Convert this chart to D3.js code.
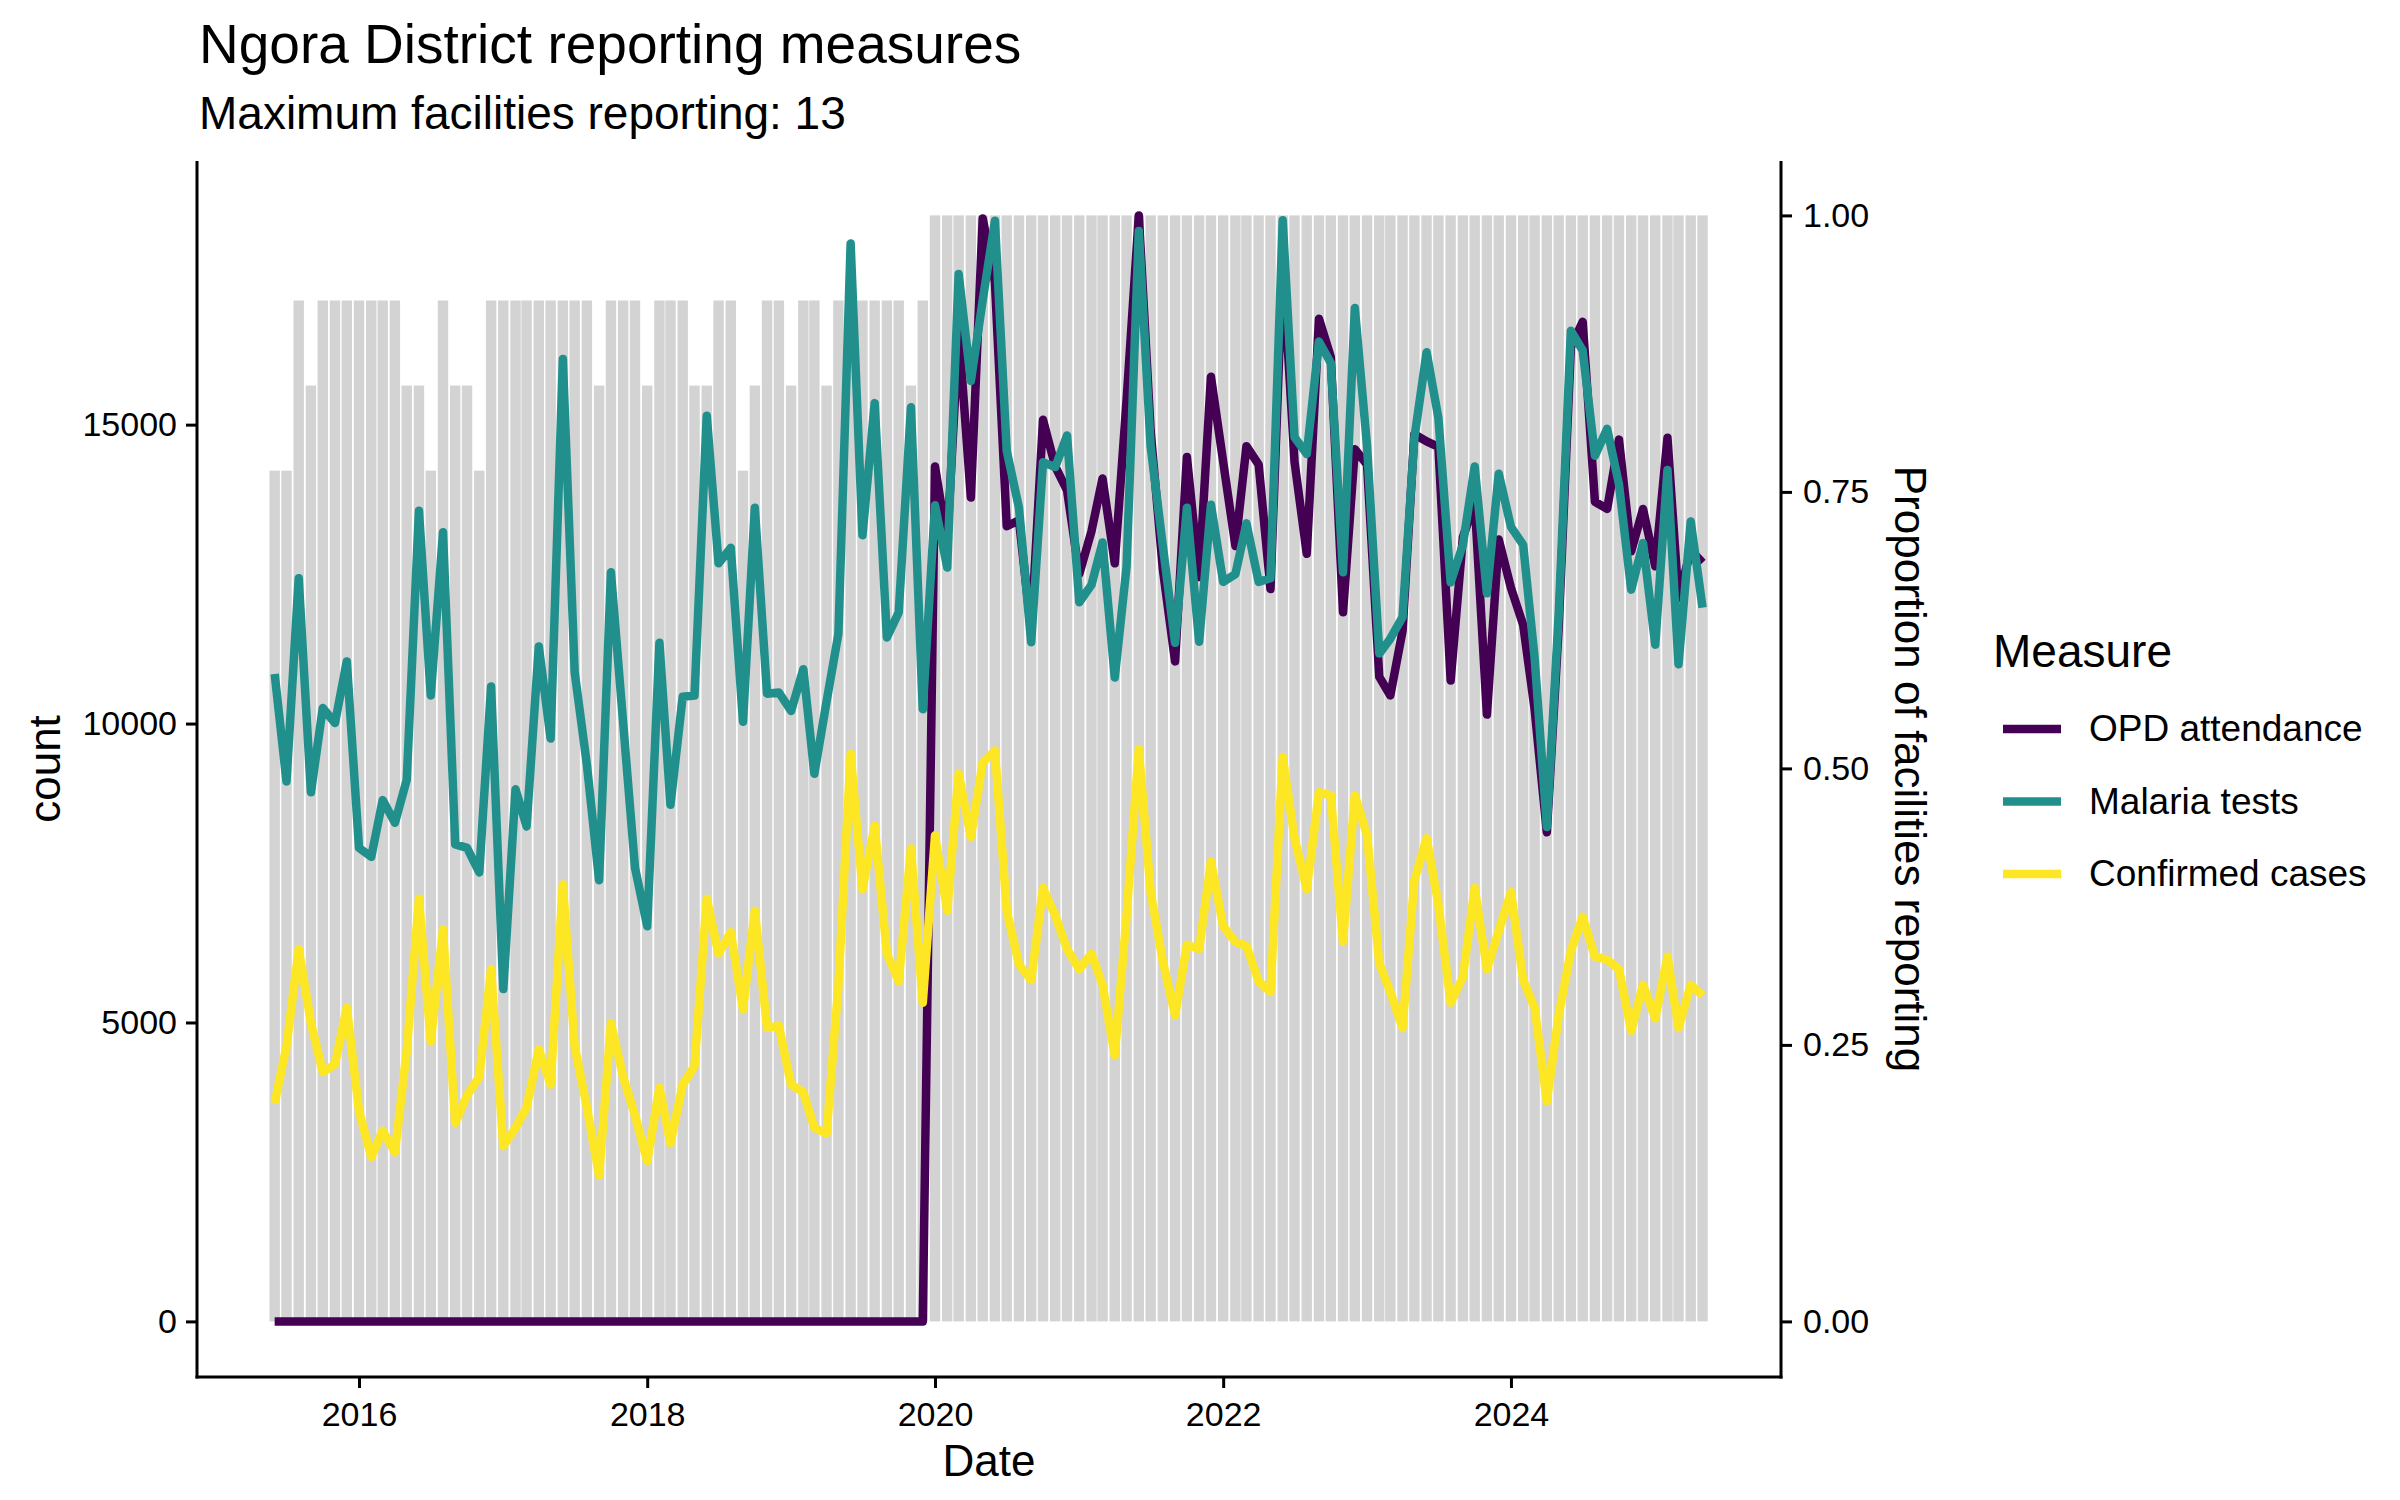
<!DOCTYPE html>
<html>
<head>
<meta charset="utf-8">
<script src="https://cdn.jsdelivr.net/npm/d3@7"></script>
<style>
  body { margin: 0; background: #fff; }
  text { font-family: "Liberation Sans", Arial, sans-serif; }
</style>
</head>
<body>
<svg id="chart" width="2400" height="1500"></svg>
<script>
// months Jun 2015 .. May 2025
var months = d3.timeMonth.range(new Date(2015, 5, 1), new Date(2025, 5, 1));

// facilities reporting per month (max 13)
var facilities = [10,10,12,11,12,12,12,12,12,12, 12,11,11,10,12,11,11,10,12,12,
  12,12,12,12,12,12,12,11,12,12, 12,11,12,12,12,11,11,12,12,10,
  11,12,12,11,12,12,11,12,12,12, 12,12,12,11,12,
  13,13,13,13,13,13,13,13,13,13, 13,13,13,13,13,13,13,13,13,13,
  13,13,13,13,13,13,13,13,13,13, 13,13,13,13,13,13,13,13,13,13,
  13,13,13,13,13,13,13,13,13,13, 13,13,13,13,13,13,13,13,13,13,
  13,13,13,13,13];
var maxFacilities = 13;

var opd = [0,0,0,0,0,0,0,0,0,0, 0,0,0,0,0,0,0,0,0,0, 0,0,0,0,0,0,0,0,0,0,
  0,0,0,0,0,0,0,0,0,0, 0,0,0,0,0,0,0,0,0,0, 0,0,0,0,0,
  14300,13040,16570,13780,18450,17390,13300,13400,11550,15080,
  14300,13900,12500,13220,14100,12680,15410,18500,14900,12580,
  11040,14460,12450,15800,14380,12970,14640,14330,12250,17730,
  14380,12840,16770,16130,11860,14590,14330,10780,10470,11550,
  14840,14720,14630,10720,13110,13710,10150,13080,12270,11650,
  10240,8180,11600,16300,16720,13710,13590,14750,12880,13590,
  12630,14780,12100,12900,12690];

var malaria = [10830,9030,12430,8850,10260,10010,11040,7920,7770,8720,
  8340,9060,13560,10470,13200,7980,7920,7510,10620,5560,
  8900,8280,11290,9750,16100,10860,9310,7380,12530,10010,
  7590,6610,11350,8640,10450,10470,15150,12680,12940,10030,
  13610,10500,10520,10210,10910,9160,10370,11500,18030,13150,
  15360,11440,11860,15290,10240,13650,12610,17520,15730,17080,
  18410,14560,13610,11360,14370,14290,14820,12030,12320,13030,
  10770,12630,18240,14640,12970,11350,13610,11370,13660,12370,
  12500,13350,12370,12430,18420,14790,14510,16390,16030,12530,
  16950,14640,11170,11420,11780,14780,16210,15110,12360,12990,
  14300,12180,14180,13290,12990,11100,8270,11810,16570,16240,
  14480,14930,14000,12240,13020,11320,14240,10990,13380,11940];

var confirmed = [3650,4600,6230,4990,4170,4300,5250,3520,2750,3190,
  2830,4530,7070,4680,6560,3320,3780,4090,5890,2930,
  3240,3580,4550,3960,7310,4600,3580,2440,4990,4090,
  3450,2680,3910,2980,3960,4270,7070,6150,6510,5220,
  6870,4910,4940,3960,3830,3240,3140,5630,9490,7230,
  8290,6150,5690,7910,5330,8130,6870,9160,8100,9350,
  9550,6870,5970,5710,7250,6790,6230,5890,6150,5630,
  4450,6790,9570,7180,6020,5120,6300,6230,7690,6610,
  6350,6280,5690,5510,9440,8080,7230,8850,8800,6350,
  8800,8130,5990,5510,4910,7380,8080,6970,5330,5760,
  7250,5890,6530,7180,5710,5250,3680,5120,6200,6770,
  6100,6050,5890,4860,5630,5070,6100,4910,5630,5450];

var measures = ["OPD attendance", "Malaria tests", "Confirmed cases"];
var colors = ["#440154", "#21908C", "#FDE725"];
var seriesValues = [opd, malaria, confirmed];

var countTicks = [0, 5000, 10000, 15000];
var propTicks = [0, 0.25, 0.5, 0.75, 1];
var yearTicks = [2016, 2018, 2020, 2022, 2024];

// secondary axis: proportion = count / scaleFactor
var scaleFactor = d3.max(seriesValues, function(s) { return d3.max(s); });

var svg = d3.select("#chart");
var pL = 197, pR = 1781, pT = 161, pB = 1377;

var x = d3.scaleTime()
  .domain([new Date(2014, 10, 16), new Date(2025, 10, 16)])
  .range([pL, pR]);
var y = d3.scaleLinear()
  .domain([-930, 19410])
  .range([pB, pT]);
var yProp = d3.scaleLinear()
  .domain([-930 / scaleFactor, 19410 / scaleFactor])
  .range([pB, pT]);

// bars: proportion of facilities reporting
var barW = 10.4;
svg.append("g").selectAll("rect")
  .data(months)
  .join("rect")
  .attr("x", function(d) { return x(d) - barW / 2; })
  .attr("width", barW)
  .attr("y", function(d, i) { return yProp(facilities[i] / maxFacilities); })
  .attr("height", function(d, i) { return yProp(0) - yProp(facilities[i] / maxFacilities); })
  .attr("fill", "#D3D3D3");

// lines
var lineW = 8.5;
var line = d3.line()
  .x(function(d) { return x(d.date); })
  .y(function(d) { return y(d.value); });

seriesValues.forEach(function(vals, k) {
  var pts = months.map(function(m, i) { return {date: m, value: vals[i]}; });
  svg.append("path")
    .datum(pts)
    .attr("d", line)
    .attr("fill", "none")
    .attr("stroke", colors[k])
    .attr("stroke-width", lineW)
    .attr("stroke-linejoin", "round");
});

// axes
var tickSize = 11, axisW = 3;
var axisColor = "#000";

var gLeft = svg.append("g").attr("transform", "translate(" + pL + ",0)")
  .call(d3.axisLeft(y).tickValues(countTicks).tickSize(tickSize).tickPadding(9).tickFormat(d3.format("d")));
var gRight = svg.append("g").attr("transform", "translate(" + pR + ",0)")
  .call(d3.axisRight(yProp).tickValues(propTicks).tickSize(tickSize).tickPadding(11).tickFormat(d3.format(".2f")));
var gBottom = svg.append("g").attr("transform", "translate(0," + pB + ")")
  .call(d3.axisBottom(x).tickValues(yearTicks.map(function(yr) { return new Date(yr, 0, 1); }))
    .tickSize(tickSize).tickPadding(14).tickFormat(d3.timeFormat("%Y")));

[gLeft, gRight, gBottom].forEach(function(g) {
  g.select(".domain").remove();
  g.selectAll(".tick line").attr("stroke", axisColor).attr("stroke-width", axisW);
  g.selectAll(".tick text").attr("fill", "#000").style("font-size", "34px")
    .style("font-family", "'Liberation Sans', Arial, sans-serif");
});

svg.append("line").attr("x1", pL).attr("x2", pL).attr("y1", pT).attr("y2", pB + axisW / 2)
  .attr("stroke", axisColor).attr("stroke-width", axisW);
svg.append("line").attr("x1", pR).attr("x2", pR).attr("y1", pT).attr("y2", pB + axisW / 2)
  .attr("stroke", axisColor).attr("stroke-width", axisW);
svg.append("line").attr("x1", pL - axisW / 2).attr("x2", pR + axisW / 2).attr("y1", pB).attr("y2", pB)
  .attr("stroke", axisColor).attr("stroke-width", axisW);

// titles
svg.append("text").attr("x", 199).attr("y", 63).attr("font-size", 55).text("Ngora District reporting measures");
svg.append("text").attr("x", 199).attr("y", 129).attr("font-size", 46).text("Maximum facilities reporting: 13");

svg.append("text").attr("x", (pL + pR) / 2).attr("y", 1476).attr("text-anchor", "middle")
  .attr("font-size", 44).text("Date");
svg.append("text").attr("transform", "translate(60," + ((pT + pB) / 2) + ") rotate(-90)")
  .attr("text-anchor", "middle").attr("font-size", 44).text("count");
svg.append("text").attr("transform", "translate(1895," + ((pT + pB) / 2) + ") rotate(90)")
  .attr("text-anchor", "middle").attr("font-size", 44).text("Proportion of facilities reporting");

// legend
var legend = svg.append("g");
legend.append("text").attr("x", 1993).attr("y", 667).attr("font-size", 46).text("Measure");
measures.forEach(function(m, k) {
  var ly = 729 + k * 72.5;
  legend.append("line").attr("x1", 2003).attr("x2", 2061).attr("y1", ly).attr("y2", ly)
    .attr("stroke", colors[k]).attr("stroke-width", lineW);
  legend.append("text").attr("x", 2089).attr("y", ly + 12).attr("font-size", 37).text(m);
});
</script>
</body>
</html>
